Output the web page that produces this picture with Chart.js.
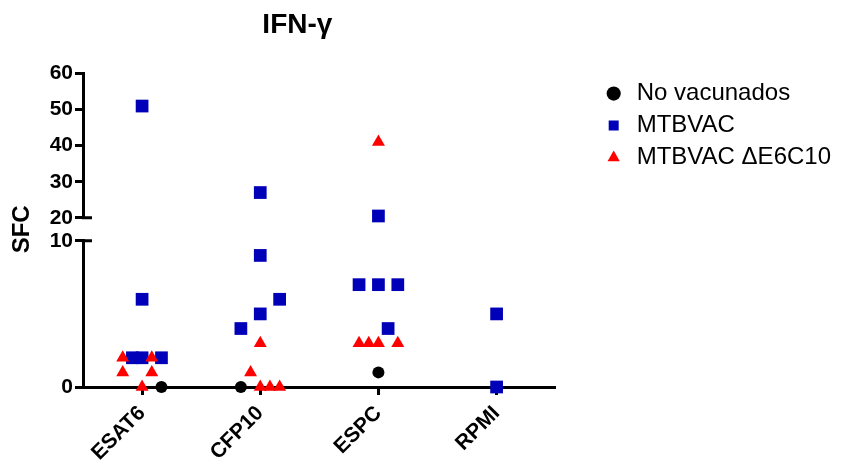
<!DOCTYPE html>
<html>
<head>
<meta charset="utf-8">
<script src="https://cdn.jsdelivr.net/npm/chart.js@4.4.0/dist/chart.umd.min.js"></script>
<style>
  html, body { margin: 0; padding: 0; background: #fff; }
</style>
</head>
<body>
<canvas id="ifnChart" width="849" height="473"></canvas>
<script>
// categorias del eje X
const categories = ['ESAT6', 'CFP10', 'ESPC', 'RPMI'];

// No vacunados
const noVacCat  = [0, 1, 2];
const noVacVal  = [0, 0, 1];
const noVacSlot = [2, -2, 0];

// MTBVAC
const mtbCat  = [0, 0, 0, 0, 0, 1, 1, 1, 1, 1, 2, 2, 2, 2, 2, 3, 3];
const mtbVal  = [51, 6, 2, 2, 2, 27, 9, 6, 5, 4, 20.5, 7, 7, 7, 4, 5, 0];
const mtbSlot = [0, 0, -1, 0, 2, 0, 0, 2, 0, -2, 0, -2, 0, 2, 1, 0, 0];

// MTBVAC ΔE6C10
const dltCat  = [0, 0, 0, 0, 0, 1, 1, 1, 1, 1, 2, 2, 2, 2, 2];
const dltVal  = [2, 2, 1, 1, 0, 3, 1, 0, 0, 0, 41, 3, 3, 3, 3];
const dltSlot = [-2, 1, -2, 1, 0, 0, -1, 0, 1, 2, 0, -2, -1, 0, 2];

// eje Y partido
const lowTicks = [0, 10];
const breakAt = 15;

const SLOT = 0.082; // separación horizontal entre puntos (dot plot)
const FONT = "'Liberation Sans', Arial, sans-serif";

function points(cats, vals, slots, high) {
    const out = [];
    vals.forEach((v, i) => {
        if ((v > breakAt) === high) {
            out.push({ x: cats[i] + slots[i] * SLOT, y: v });
        }
    });
    return out;
}

function series(label, cats, vals, slots, high, style) {
    return Object.assign({
        label,
        data: points(cats, vals, slots, high),
        yAxisID: high ? 'yHigh' : 'yLow',
        pointBorderWidth: 0,
        borderWidth: 0,
        clip: false
    }, style);
}

const blackStyle = { pointStyle: 'circle', pointRadius: 6, backgroundColor: '#000000', pointBackgroundColor: '#000000', borderColor: '#000000', order: 0 };
const redStyle   = { pointStyle: 'triangle', pointRadius: 7.5, backgroundColor: '#ff0000', pointBackgroundColor: '#ff0000', borderColor: '#ff0000', order: 1 };
const blueStyle  = { pointStyle: 'rect', pointRadius: 9, backgroundColor: '#0000b8', pointBackgroundColor: '#0000b8', borderColor: '#0000b8', order: 2 };

const datasets = [
    series('No vacunados', noVacCat, noVacVal, noVacSlot, false, blackStyle),
    series('MTBVAC', mtbCat, mtbVal, mtbSlot, false, blueStyle),
    series('MTBVAC ΔE6C10', dltCat, dltVal, dltSlot, false, redStyle),
    series('MTBVAC', mtbCat, mtbVal, mtbSlot, true, blueStyle),
    series('MTBVAC ΔE6C10', dltCat, dltVal, dltSlot, true, redStyle)
];

const axisGrid = { drawOnChartArea: false, drawTicks: true, tickLength: 8, tickWidth: 3, tickColor: '#000' };
const axisBorder = { color: '#000', width: 3 };
const tickFont = { family: FONT, size: 21, weight: 'bold' };
const fixWidth = (s) => { s.width = 83; };

// desplaza el título hacia la izquierda como en la figura original
const titleShift = {
    id: 'titleShift',
    afterLayout(chart) {
        chart.titleBlock.left -= 22;
        chart.titleBlock.right -= 22;
    }
};

// marcas del corte del eje Y (cruzan la línea del eje)
const axisBreak = {
    id: 'axisBreak',
    afterDraw(chart) {
        const ctx = chart.ctx;
        const hi = chart.scales.yHigh;
        const lo = chart.scales.yLow;
        const x = chart.chartArea.left;
        ctx.save();
        ctx.strokeStyle = '#000';
        ctx.lineWidth = 3;
        ctx.beginPath();
        [hi.getPixelForValue(hi.min), lo.getPixelForValue(lo.max)].forEach(y => {
            ctx.moveTo(x - 1, y);
            ctx.lineTo(x + 9, y);
        });
        ctx.stroke();
        ctx.restore();
    }
};

new Chart(document.getElementById('ifnChart'), {
    type: 'scatter',
    data: { datasets },
    plugins: [titleShift, axisBreak],
    options: {
        responsive: false,
        animation: false,
        layout: { padding: { left: 0, right: 8, top: 0, bottom: 0 } },
        plugins: {
            tooltip: { enabled: false },
            title: {
                display: true,
                text: 'IFN-γ',
                fullSize: false,
                color: '#000',
                font: { family: FONT, size: 28, weight: 'bold' },
                padding: { top: 8, bottom: 32 }
            },
            legend: {
                position: 'right',
                align: 'start',
                fullSize: false,
                maxWidth: 260,
                labels: {
                    usePointStyle: true,
                    boxWidth: 22,
                    boxHeight: 10,
                    padding: 8,
                    color: '#000',
                    font: { family: FONT, size: 24 },
                    filter: (item, data) => data.datasets[item.datasetIndex].yAxisID === 'yLow',
                    sort: (a, b) => a.datasetIndex - b.datasetIndex
                }
            }
        },
        scales: {
            x: {
                type: 'linear',
                min: -0.5,
                max: 3.5,
                grid: axisGrid,
                border: axisBorder,
                afterBuildTicks: (s) => { s.ticks = categories.map((c, i) => ({ value: i })); },
                afterFit: (s) => { s.height = 86; },
                ticks: {
                    autoSkip: false,
                    minRotation: 45,
                    maxRotation: 45,
                    padding: 6,
                    color: '#000',
                    font: tickFont,
                    callback: (v) => categories[v]
                }
            },
            yLow: {
                type: 'linear',
                position: 'left',
                stack: 'y',
                stackWeight: 146,
                min: 0,
                max: 10,
                grid: axisGrid,
                border: axisBorder,
                afterBuildTicks: (s) => { s.ticks = lowTicks.map(v => ({ value: v })); },
                afterFit: fixWidth,
                ticks: { autoSkip: false, color: '#000', font: tickFont, padding: 2 }
            },
            yGap: {
                type: 'linear',
                position: 'left',
                stack: 'y',
                stackWeight: 23,
                min: 0,
                max: 1,
                grid: { display: false },
                border: { display: false },
                ticks: { display: false },
                afterFit: fixWidth,
                title: {
                    display: true,
                    text: 'SFC',
                    color: '#000',
                    font: { family: FONT, size: 24, weight: 'bold' },
                    padding: { top: 8, bottom: 0 }
                }
            },
            yHigh: {
                type: 'linear',
                position: 'left',
                stack: 'y',
                stackWeight: 144,
                min: 20,
                max: 60,
                grid: axisGrid,
                border: axisBorder,
                afterFit: fixWidth,
                ticks: { autoSkip: false, stepSize: 10, color: '#000', font: tickFont, padding: 2 }
            },
            pad: {
                type: 'linear',
                position: 'right',
                grid: { display: false },
                border: { display: false },
                ticks: { display: false },
                afterFit: (s) => { s.width = 39; }
            }
        }
    }
});
</script>
</body>
</html>
